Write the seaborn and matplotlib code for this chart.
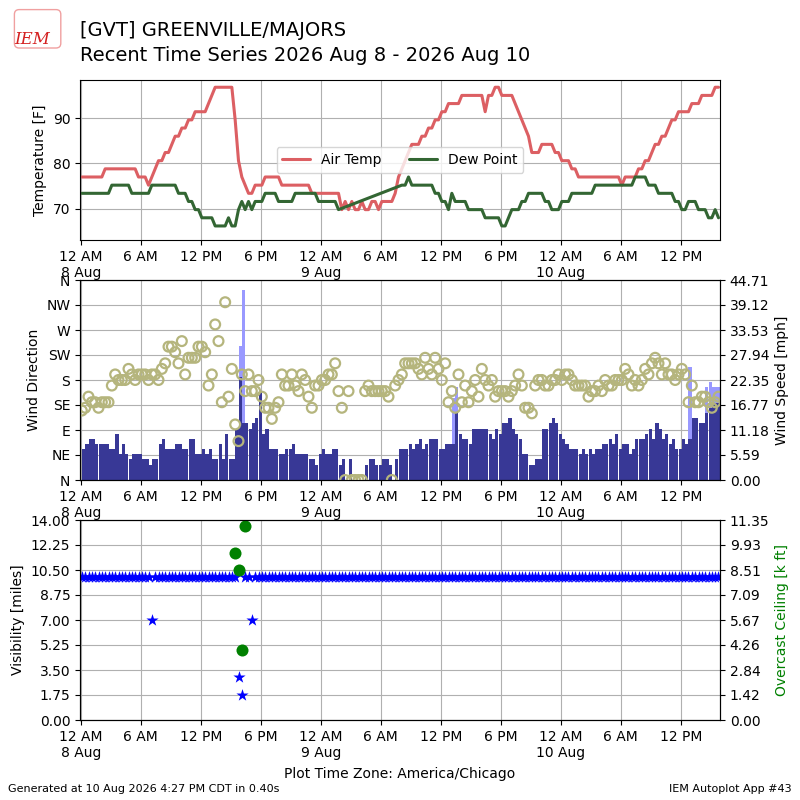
import numpy as np
import pandas as pd
import matplotlib
matplotlib.use("Agg")
import matplotlib.pyplot as plt
import matplotlib.dates as mdates
from matplotlib.patches import FancyBboxPatch
from matplotlib.ticker import FuncFormatter, FixedLocator
import seaborn as sns

nan = np.nan

station = "[GVT] GREENVILLE/MAJORS"
subtitle = "Recent Time Series 2026 Aug 8 - 2026 Aug 10"
generated = "Generated at 10 Aug 2026 4:27 PM CDT in 0.40s"
app_label = "IEM Autoplot App #43"
tz_label = "Plot Time Zone: America/Chicago"

# observations every 20 minutes, three per hour
first_ob = "2026-08-08 00:06"

# air temperature [C]
tmpc = [
    25, 25, 25, 25, 25, 25, 25, 26, 26, 26, 26, 26,
    26, 26, 26, 26, 26, 25, 25, 25, 24, 25, 26, 27,
    27, 28, 28, 29, 30, 30, 31, 31, 32, 32, 33, 33,
    33, 33, 34, 35, 36, 36, 36, 36, 36, 36, 32, 27,
    25, 24, 23, 23, 24, 24, 24, 25, 25, 25, 25, 25,
    24, 24, 24, 24, 24, 24, 24, 24, 24, 23, 23, 23,
    23, 23, 23, 23, 23, 23, 21, 22, 21, 22, 21, 21,
    22, 21, 21, 22, 22, 21, 22, 22, 22, 22, 23, 25,
    26, 27, 28, 29, 29, 29, 30, 30, 31, 31, 32, 32,
    33, 33, 34, 34, 34, 34, 35, 35, 35, 35, 35, 35,
    35, 33, 35, 35, 36, 36, 35, 35, 35, 35, 34, 33,
    32, 31, 30, 28, 28, 28, 29, 29, 29, 29, 28, 28,
    27, 27, 27, 26, 26, 25, 25, 25, 25, 25, 25, 25,
    25, 25, 25, 25, 25, 25, 24, 25, 25, 25, 25, 26,
    26, 27, 27, 28, 29, 29, 30, 30, 31, 32, 32, 33,
    33, 33, 33, 34, 34, 34, 35, 35, 35, 35, 36, 36,
]

# dew point [C]
dwpc = [
    23, 23, 23, 23, 23, 23, 23, 23, 23, 24, 24, 24,
    24, 24, 24, 23, 23, 23, 23, 23, 23, 24, 24, 24,
    24, 24, 24, 24, 24, 23, 23, 23, 22, 22, 21, 21,
    20, 20, 20, 20, 19, 19, 19, 19, 20, 19, 19, 21,
    22, 21, 22, 21, 22, 22, 22, 23, 23, 23, 23, 22,
    22, 22, 22, 22, 23, 23, 23, 23, 23, 23, 23, 22,
    22, 22, 22, 22, 22, 21, nan, nan, nan, nan, nan, nan,
    nan, nan, nan, nan, nan, nan, nan, nan, nan, nan, nan, nan,
    24, 24, 25, 24, 24, 24, 24, 24, 24, 24, 23, 23,
    22, 22, 21, 23, 22, 22, 22, 22, 21, 21, 21, 21,
    21, 20, 20, 20, 20, 20, 19, 19, 20, 21, 21, 21,
    22, 22, 23, 23, 23, 23, 23, 22, 22, 21, 21, 21,
    22, 22, 22, 23, 23, 23, 23, 23, 23, 23, 24, 24,
    24, 24, 24, 24, 24, 24, 24, 24, 24, 24, 25, 25,
    25, 25, 24, 24, 24, 23, 23, 23, 23, 23, 22, 22,
    21, 21, 22, 22, 22, 21, 21, 21, 20, 20, 21, 20,
]

# wind direction [deg]
drct = [
    125, 130, 150, 140, 140, 130, 140, 140, 140, 170, 190, 180,
    180, 180, 200, 190, 180, 190, 190, 190, 180, 190, 190, 180,
    200, 210, 240, 240, 230, 210, 250, 190, 220, 220, 220, 240,
    240, 230, 170, 190, 280, 250, 140, 320, 150, 200, 100, 70,
    190, 160, 190, 160, 160, 180, 150, 130, 130, 110, 130, 140,
    190, 170, 170, 190, 170, 160, 190, 180, 150, 130, 170, 170,
    180, 180, 190, 190, 210, 160, 130, 0, 160, 0, 0, 0,
    0, 160, 170, 160, 160, 160, 160, 160, 150, 0, 170, 180,
    190, 210, 210, 210, 210, 200, 190, 220, 200, 190, 220, 200,
    180, 210, 140, 160, 130, 190, 140, 170, 140, 160, 180, 150,
    200, 180, 170, 180, 150, 160, 160, 160, 150, 160, 170, 190,
    170, 130, 130, 120, 170, 180, 180, 170, 170, 180, 180, 190,
    180, 190, 190, 180, 170, 170, 170, 170, 150, 160, 160, 170,
    160, 180, 170, 170, 180, 180, 180, 200, 190, 170, 180, 170,
    180, 200, 190, 210, 220, 210, 190, 210, 190, 190, 180, 190,
    200, 190, 140, 170, 140, 140, 150, 150, 140, 130, 140, 150,
]

# wind speed [kt]
sknt = [
    6, 7, 8, 8, 7, 7, 7, 7, 6, 6, 9, 5,
    7, 5, 4, 5, 5, 5, 4, 4, 3, 4, 4, 7,
    8, 6, 6, 6, 7, 7, 6, 6, 8, 8, 5, 5,
    6, 5, 6, 4, 4, 7, 4, 9, 4, 4, 10, 20,
    11, 11, 10, 11, 12, 17, 9, 10, 6, 6, 6, 5,
    5, 6, 6, 7, 5, 5, 5, 5, 4, 4, 3, 5,
    6, 5, 5, 6, 6, 3, 4, 0, 4, 0, 0, 0,
    0, 3, 4, 4, 3, 3, 4, 4, 3, 0, 4, 6,
    6, 6, 7, 6, 7, 8, 6, 7, 8, 8, 8, 6,
    6, 7, 7, 7, 13, 9, 8, 8, 7, 10, 10, 10,
    10, 10, 9, 8, 10, 9, 11, 11, 12, 10, 9, 8,
    5, 5, 3, 3, 4, 4, 10, 10, 11, 12, 11, 9,
    8, 7, 6, 6, 6, 5, 6, 5, 6, 5, 6, 6,
    7, 7, 8, 7, 9, 6, 7, 7, 5, 6, 8, 8,
    8, 9, 10, 8, 11, 10, 8, 9, 7, 8, 6, 6,
    8, 7, 8, 12, 12, 11, 11, 13, 14, 15, 15, 15,
]

# wind gusts [kt]
gust_times = ["2026-08-08 15:46", "2026-08-08 16:06",
              "2026-08-09 13:06", "2026-08-09 13:26",
              "2026-08-10 12:46", "2026-08-10 14:26", "2026-08-10 14:46",
              "2026-08-10 15:06", "2026-08-10 15:26", "2026-08-10 15:46"]
gust_kt = [26, 37, 16, 18, 22, 18, 19, 18, 18, 18]

# visibility [miles]
vsby = [
    10, 10, 10, 10, 10, 10, 10, 10, 10, 10, 10, 10,
    10, 10, 10, 10, 10, 10, 10, 10, 10, 7, 10, 10,
    10, 10, 10, 10, 10, 10, 10, 10, 10, 10, 10, 10,
    10, 10, 10, 10, 10, 10, 10, 10, 10, 10, 10, 3,
    1.75, 10, 10, 7, 10, 10, 10, 10, 10, 10, 10, 10,
    10, 10, 10, 10, 10, 10, 10, 10, 10, 10, 10, 10,
    10, 10, 10, 10, 10, 10, 10, 10, 10, 10, 10, 10,
    10, 10, 10, 10, 10, 10, 10, 10, 10, 10, 10, 10,
    10, 10, 10, 10, 10, 10, 10, 10, 10, 10, 10, 10,
    10, 10, 10, 10, 10, 10, 10, 10, 10, 10, 10, 10,
    10, 10, 10, 10, 10, 10, 10, 10, 10, 10, 10, 10,
    10, 10, 10, 10, 10, 10, 10, 10, 10, 10, 10, 10,
    10, 10, 10, 10, 10, 10, 10, 10, 10, 10, 10, 10,
    10, 10, 10, 10, 10, 10, 10, 10, 10, 10, 10, 10,
    10, 10, 10, 10, 10, 10, 10, 10, 10, 10, 10, 10,
    10, 10, 10, 10, 10, 10, 10, 10, 10, 10, 10, 10,
]

# overcast ceiling [k ft]
ceil_times = ["2026-08-08 15:26", "2026-08-08 15:46",
              "2026-08-08 16:06", "2026-08-08 16:26"]
ceil_kft = [9.5, 8.5, 4.0, 11.0]

dir_labels = ["N", "NE", "E", "SE", "S", "SW", "W", "NW", "N"]

valid = pd.date_range(first_ob, periods=len(tmpc), freq="20min")
df = pd.DataFrame({
    "valid": valid,
    "tmpf": np.array(tmpc, dtype=float) * 9 / 5 + 32,
    "dwpf": np.array(dwpc, dtype=float) * 9 / 5 + 32,
    "drct": drct,
    "sped": np.array(sknt) * 1.15078,
    "vsby": vsby,
})
gust = pd.DataFrame({"valid": pd.to_datetime(gust_times),
                     "mph": np.array(gust_kt) * 1.15078})
ceil = pd.DataFrame({"valid": pd.to_datetime(ceil_times), "kft": ceil_kft})

sns.set_style("ticks", {"axes.edgecolor": "black", "text.color": "black",
                        "axes.labelcolor": "black", "xtick.color": "black",
                        "ytick.color": "black"})
plt.rcParams["font.family"] = ["DejaVu Sans"]
plt.rcParams["font.size"] = 10

xmin = pd.Timestamp("2026-08-07 23:55")
xmax = pd.Timestamp("2026-08-10 15:55")
barw = 20 / 1440.0


def time_fmt(x, pos):
    d = mdates.num2date(x)
    if d.hour == 0:
        return "12 AM\n%d %s" % (d.day, d.strftime("%b"))
    return d.strftime("%I %p").lstrip("0")


def style_time(ax):
    ax.set_xlim(xmin, xmax)
    ax.xaxis.set_major_locator(mdates.HourLocator(byhour=[0, 6, 12, 18]))
    ax.xaxis.set_major_formatter(FuncFormatter(time_fmt))
    ax.grid(True, color="#b0b0b0", linewidth=0.8)
    for s in ax.spines.values():
        s.set_visible(True)
        s.set_color("black")


fig = plt.figure(figsize=(8, 8), dpi=100)

# --- temperature panel
ax1 = fig.add_axes([0.1, 0.7, 0.8, 0.2])
sns.lineplot(data=df, x="valid", y="tmpf", ax=ax1, color="#dc5f63",
             linewidth=2.2, label="Air Temp")
sns.lineplot(data=df.dropna(subset=["dwpf"]), x="valid", y="dwpf", ax=ax1,
             color="#336633", linewidth=2.2, label="Dew Point")
ax1.set_ylim(63.1, 98.4)
ax1.set_yticks([70, 80, 90])
ax1.set_ylabel("Temperature [F]")
ax1.set_xlabel("")
style_time(ax1)
ax1.legend(loc="center", ncol=2, fontsize=10)

# --- wind panel: speed bars below, direction circles on top
ax2 = fig.add_axes([0.1, 0.4, 0.8, 0.25])
ax2b = ax2.twinx()
ax2.bar(gust["valid"], gust["mph"], width=barw, align="edge",
        color="#9999ff", linewidth=0)
ax2.bar(df["valid"], df["sped"], width=barw, align="edge",
        color="#383896", linewidth=0)
smax = gust["mph"].max() * 1.05
ax2.set_ylim(0, smax)
ax2.yaxis.set_major_locator(FixedLocator(np.linspace(0, smax, 9)))
ax2.yaxis.set_major_formatter(FuncFormatter(lambda v, p: "%.2f" % v))
ax2.yaxis.tick_right()
ax2.yaxis.set_label_position("right")
ax2.set_ylabel("Wind Speed [mph]")
style_time(ax2)

sns.scatterplot(data=df, x="valid", y="drct", ax=ax2b, marker="o", s=50,
                facecolor="none", edgecolor="#b5b57d", linewidth=1.6)
ax2b.set_ylim(0, 360)
ax2b.set_yticks(np.arange(0, 361, 45))
ax2b.set_yticklabels(dir_labels)
ax2b.yaxis.tick_left()
ax2b.yaxis.set_label_position("left")
ax2b.set_ylabel("Wind Direction")
ax2b.set_xlabel("")
ax2b.set_xlim(xmin, xmax)
ax2b.grid(False)

# --- visibility / ceiling panel
ax3 = fig.add_axes([0.1, 0.1, 0.8, 0.25])
ax3b = ax3.twinx()
sns.scatterplot(data=df, x="valid", y="vsby", ax=ax3, marker="*", s=85,
                color="blue", linewidth=0)
ax3.set_ylim(0, 14)
ax3.yaxis.set_major_locator(FixedLocator(np.arange(0, 14.01, 1.75)))
ax3.yaxis.set_major_formatter(FuncFormatter(lambda v, p: "%.2f" % v))
ax3.set_ylabel("Visibility [miles]")
ax3.set_xlabel("")
style_time(ax3)

sns.scatterplot(data=ceil, x="valid", y="kft", ax=ax3b, marker="o", s=75,
                color="green", linewidth=0)
cmax = 11.35
ax3b.set_ylim(0, cmax)
ax3b.yaxis.set_major_locator(FixedLocator(np.linspace(0, cmax, 9)))
ax3b.yaxis.set_major_formatter(FuncFormatter(lambda v, p: "%.2f" % v))
ax3b.set_ylabel("Overcast Ceiling [k ft]", color="green")
ax3b.set_xlabel("")
ax3b.set_xlim(xmin, xmax)
ax3b.grid(False)

# --- header and footer
logo_box = FancyBboxPatch((0.02, 0.942), 0.054, 0.044,
                          boxstyle="round,pad=0.002,rounding_size=0.006",
                          transform=fig.transFigure, facecolor="white",
                          edgecolor="#f0a0a0", linewidth=1.0)
fig.patches.append(logo_box)
fig.text(0.04, 0.95, "IEM", fontsize=12, color="#d42020", style="italic",
         family="DejaVu Serif", ha="center", va="center")
fig.text(0.1, 0.9625, station, fontsize=14, va="center")
fig.text(0.1, 0.931, subtitle, fontsize=14, va="center")
fig.text(0.5, 0.032, tz_label, fontsize=10, ha="center", va="center")
fig.text(0.01, 0.014, generated, fontsize=8, va="center")
fig.text(0.99, 0.014, app_label, fontsize=8, ha="right", va="center")

fig.savefig("out.png", dpi=100)
